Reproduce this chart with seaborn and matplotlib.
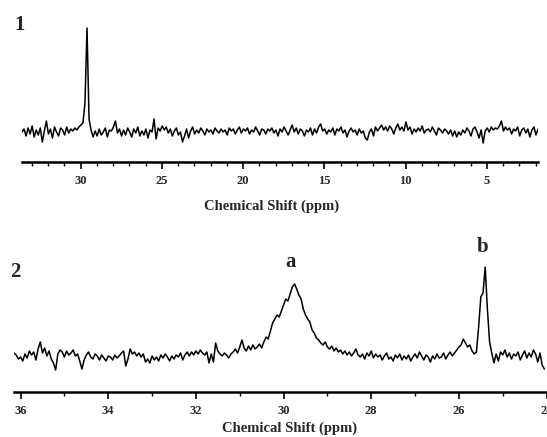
import numpy as np
import pandas as pd
import matplotlib
matplotlib.use("Agg")
import matplotlib.pyplot as plt
import seaborn as sns
from matplotlib.ticker import MultipleLocator

# ---------------- data ----------------
# Spectrum 1: samples every 0.125 ppm from 33.6 ppm down to 1.85 ppm
p1_start, p1_step = 33.6, 0.125
p1_intensity = [
    1, 4, -3, 5, -1, 7, -4, 3, -2, 5,
    -9, 2, 12, -1, 4, -5, 6, 1, -3, 5,
    3, -2, 6, 0, 4, 2, 5, 3, 6, 8,
    10, 30, 105, 14, 3, -4, 2, -3, 4, -2,
    1, 5, -4, 3, 2, 6, 12, 0, 4, -3,
    3, -2, 5, 1, -4, 4, 0, 6, -3, 2,
    -2, 4, -5, 3, 1, 14, -6, 5, 2, 7,
    3, 6, 0, 4, -3, 2, 5, -2, 1, -9,
    -3, 4, -5, 2, 6, -1, 3, 0, 5, 2,
    -2, 4, 1, 3, -1, 5, 2, 0, 4, 1,
    3, -2, 5, 2, 4, -1, 3, 6, 0, 4,
    2, 5, -1, 3, 1, 6, 2, -2, 4, 3,
    -1, 4, 2, 5, 0, 3, -3, 4, 1, 6,
    2, -2, 3, 8, 1, 5, -1, 4, 2, -3,
    3, 1, 5, -2, 4, 0, 6, 9, 2, 4,
    -1, 3, 1, 5, -2, 4, 2, 6, 0, 3,
    -4, 2, 5, 1, 3, -2, 4, 0, 2, -5,
    -7, 1, 4, -3, 6, 2, 5, 8, 3, 6,
    2, 7, 4, -1, 5, 9, 3, 6, 2, 11,
    3, 6, -1, 4, 1, 5, 2, 7, 0, 3,
    4, 1, 6, 2, -2, 5, 3, 0, 4, 2,
    -1, 3, -3, 2, -4, 1, -2, 3, 0, 5,
    2, -3, 4, 6, 1, -5, 3, -10, 2, 5,
    1, 6, 3, 5, 4, 7, 12, 2, 6, 3,
    5, -1, 4, 2, 6, -3, 3, 5, 0, 4,
    -4, 3, 6, -2, 4,
]

# Spectrum 2: samples every 0.05 ppm from 36.15 ppm down to 24.05 ppm
p2_start, p2_step = 36.15, 0.05
p2_intensity = [
    4, 2, -2, 0, -4, 3, -1, 6, 2, 5, -3, 8, 15, 4, 9, 1, 6, -2, -6, -13,
    3, 7, 5, 0, 6, 2, 4, 7, 1, 3, -4, -12, -3, 2, 5, 0, -2, 3, 1, -3,
    2, -1, -4, 1, 0, -3, 2, -1, 1, 4, 6, -9, -2, 8, 3, 5, 1, 4, 0, 3,
    -5, -2, -6, 1, -3, 0, -4, 2, -1, 3, 0, -4, 1, -2, 2, 0, 4, -3, 2, 5,
    1, 5, 2, 6, 3, 7, 4, 2, 5, -6, 3, -5, 14, 6, 3, 1, 4, 2, -1, 3,
    5, 8, 4, 10, 17, 9, 6, 11, 7, 12, 8, 10, 13, 9, 15, 20, 18, 26, 34, 38,
    42, 40, 46, 52, 58, 56, 63, 70, 73, 68, 62, 58, 48, 42, 38, 35, 27, 24, 19, 17,
    14, 12, 15, 10, 8, 11, 6, 9, 5, 7, 3, 6, 2, 5, 1, 4, 8, 2, 0, 3,
    -2, 4, 1, 6, -1, 3, 0, 2, -3, 1, 4, -2, 0, -4, 2, -1, 3, -3, 1, -2,
    2, -4, 0, 3, -1, 5, 1, -3, 2, 0, -5, 1, -2, 3, -1, 0, 4, -2, 2, 5,
    1, 4, 7, 10, 12, 18, 14, 10, 12, 6, 3, 5, 30, 60, 64, 90, 48, 15, 4, -6,
    3, -4, 5, 2, 7, 0, 4, -2, 3, 1, 5, -3, 2, 6, -1, 4, 0, 7, 3, -5, 4, -8, -12,
]

panel_labels = ["1", "2"]
peak_labels = ["a", "b"]
peak_label_ppm = [29.85, 25.45]
xlabel_text = "Chemical Shift (ppm)"

p1 = pd.DataFrame({
    "ppm": p1_start - p1_step * np.arange(len(p1_intensity)),
    "intensity": p1_intensity,
})
p2 = pd.DataFrame({
    "ppm": p2_start - p2_step * np.arange(len(p2_intensity)),
    "intensity": p2_intensity,
})

# ---------------- figure ----------------
sns.set_theme(style="white")
plt.rcParams["font.family"] = ["Liberation Serif", "DejaVu Serif"]
plt.rcParams["font.weight"] = "bold"

W, H = 547, 437
fig = plt.figure(figsize=(5.47, 4.37), dpi=100)
ax1 = fig.add_axes([22 / W, 275 / H, 516 / W, 142 / H])
ax2 = fig.add_axes([14 / W, 45 / H, 533 / W, 152 / H])

sns.lineplot(data=p1, x="ppm", y="intensity", ax=ax1, color="black", linewidth=1.1)
sns.lineplot(data=p2, x="ppm", y="intensity", ax=ax2, color="black", linewidth=1.1)

ax1.set_xlim(33.6, 1.85)
ax1.set_ylim(-29, 113)
ax2.set_xlim(36.15, 23.99)
ax2.set_ylim(-35, 117)

ax1.xaxis.set_major_locator(MultipleLocator(5))
ax1.xaxis.set_minor_locator(MultipleLocator(1))
ax2.xaxis.set_major_locator(MultipleLocator(2))
ax2.xaxis.set_minor_locator(MultipleLocator(1))

for ax in (ax1, ax2):
    for s in ("left", "right", "top"):
        ax.spines[s].set_visible(False)
    ax.spines["bottom"].set_linewidth(1.8)
    ax.spines["bottom"].set_color("black")
    ax.set_yticks([])
    ax.set_ylabel("")
    ax.set_xlabel("")
    ax.patch.set_alpha(0)
    ax.tick_params(axis="x", which="major", direction="out", length=5, width=1.2,
                   color="black", labelsize=9, pad=4, bottom=True)
    ax.tick_params(axis="x", which="minor", direction="out", length=3, width=1,
                   color="black", bottom=True)
    for lab in ax.get_xticklabels():
        lab.set_fontweight("bold")

fig.text(272 / W, 1 - 206 / H, xlabel_text, fontsize=10.5, fontweight="bold",
         ha="center", va="center")
fig.text(290 / W, 1 - 428 / H, xlabel_text, fontsize=10.5, fontweight="bold",
         ha="center", va="center")

fig.text(20 / W, 1 - 25 / H, panel_labels[0], fontsize=15, fontweight="bold",
         ha="center", va="center")
fig.text(15 / W, 1 - 272 / H, panel_labels[1], fontsize=15, fontweight="bold",
         ha="center", va="center")

ax2.text(peak_label_ppm[0], 95, peak_labels[0], fontsize=15, fontweight="bold",
         ha="center", va="center")
ax2.text(peak_label_ppm[1], 110, peak_labels[1], fontsize=15, fontweight="bold",
         ha="center", va="center")

fig.savefig("out.png", dpi=100)
